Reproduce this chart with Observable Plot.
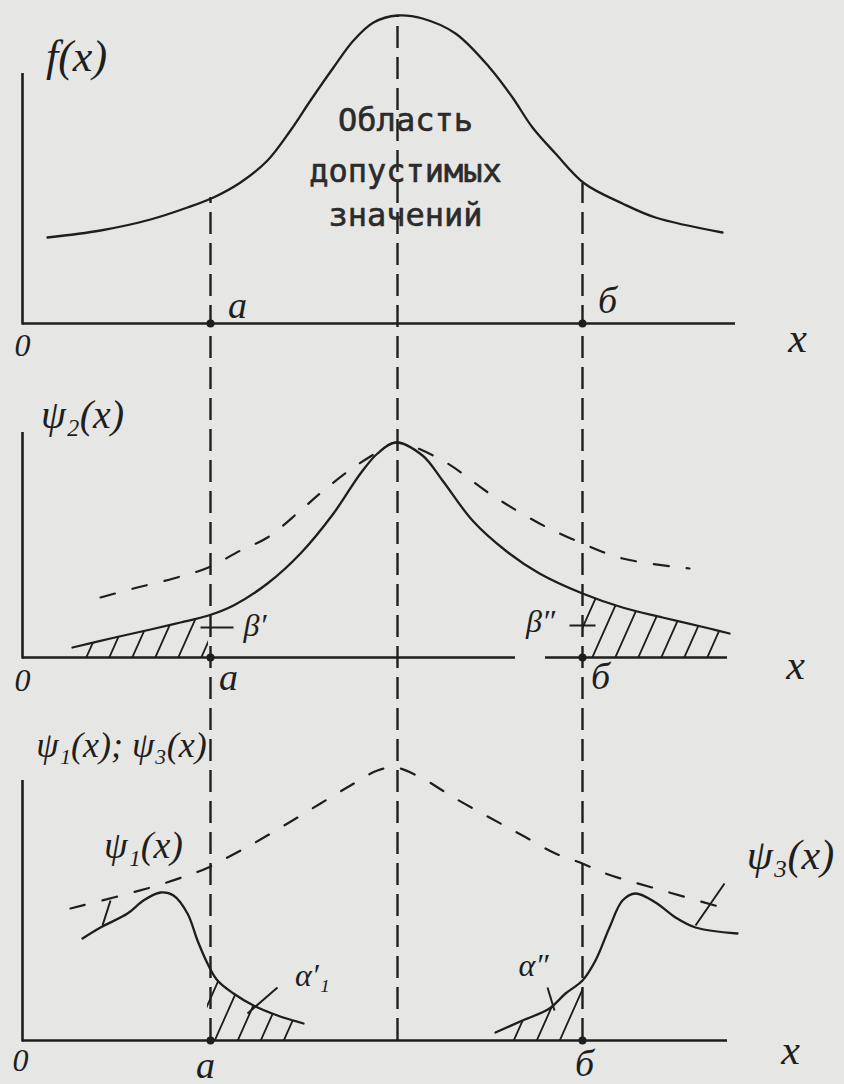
<!DOCTYPE html>
<html><head><meta charset="utf-8">
<script src="https://cdn.jsdelivr.net/npm/d3@7"></script>
<script src="https://cdn.jsdelivr.net/npm/@observablehq/plot@0.6"></script>
<style>
html,body{margin:0;padding:0;background:#e6e6e4;}
#chart{width:844px;height:1084px;overflow:hidden;}
</style></head><body><div id="chart"></div>
<script>
// ---- values (x in axis units, y = height above each panel's axis) ----
const xMarks = {a: 37.6, center: 75, b: 112};
const tickLabels = ["0", "a", "б"];

// top panel: f(x)
const fX = [5, 15.6, 25.6, 33, 38.2, 43.6, 49, 53.6, 57.6, 62.2, 66.2, 70.2, 75, 80, 86.6, 93.4, 98, 102, 106.6, 112.4, 120, 126.6, 140];
const fY = [17.2, 18.6, 20.8, 23.2, 25.2, 28.2, 32.6, 38.6, 44.6, 51.2, 56.6, 60.2, 61.6, 61, 58, 51.2, 45.2, 39.2, 34, 28, 24, 21.2, 18.2];

// middle panel: psi2(x) solid and its dashed envelope
const psi2X = [10, 17.6, 25.6, 31.6, 37.2, 42.2, 49, 55.6, 62.2, 67.6, 71, 74.6, 80, 84, 90, 96.6, 103.4, 112, 120, 128, 137.4, 141.4];
const psi2Y = [2, 3.8, 5.6, 7, 8.4, 10.4, 14.8, 20.8, 28.8, 36.8, 40.8, 43, 40.4, 35.4, 27.4, 21.4, 16.8, 12.8, 10, 8, 5.8, 4.8];
const env2X = [15.6, 22.2, 30.2, 37.2, 43.6, 49, 55.6, 60.2, 66.2, 71.6, 74.6, 84, 93.4, 103.4, 112, 120, 133.4];
const env2Y = [12, 13.8, 15.8, 18, 21.4, 24, 29.4, 33.4, 38, 41.4, 43, 39.4, 32.8, 26.8, 22.8, 19.8, 17.8];

// bottom panel: psi1(x), psi3(x) and the dashed envelope
const psi1X = [12, 15.6, 21, 24.2, 27.6, 30.2, 33, 35, 37, 39, 42.2, 46.2, 51, 56.2];
const psi1Y = [20.4, 22.6, 25.4, 28, 29.6, 29, 25.4, 20, 15.4, 12, 9.4, 7, 5, 3.4];
const psi3X = [94.6, 100, 105.4, 108.6, 112, 114.6, 117.4, 120, 122.6, 126.6, 130.6, 134.6, 143];
const psi3Y = [1.6, 4, 6.4, 9.4, 12, 16, 22.6, 28, 29.4, 27.6, 24.6, 22.6, 21.4];
const env13X = [9.6, 25.6, 33, 37.2, 41, 46.2, 53, 59.6, 65.6, 71, 74.6, 80, 86.6, 93.4, 100, 106.6, 112, 116.6, 126.6, 140.6];
const env13Y = [26.4, 30.6, 33, 34.6, 36.6, 39.4, 43.4, 47.4, 51, 54, 54.6, 52.4, 48.4, 44.6, 41, 37.4, 35.4, 33.4, 30.4, 26.4];

// caption inside the top panel
const regionText = ["Область", "допустимых", "значений"];

// ---- layout (positions / sizes / styles) ----
const ink = "#1e1e1e";
const base = {f: 152.2, psi2: 85.4, psi13: 8.8};
const yAxisTop = {f: 50, psi2: 45, psi13: 52};
const xAxisSegs = [
  {p: "f", x1: 0, x2: 142.6},
  {p: "psi2", x1: 0, x2: 98.6}, {p: "psi2", x1: 104.6, x2: 141},
  {p: "psi13", x1: 0, x2: 141}
];
const hatchRanges = [
  {p: "psi2", xs: psi2X, ys: psi2Y, from: 10, to: 37.6},
  {p: "psi2", xs: psi2X, ys: psi2Y, from: 112, to: 141.4},
  {p: "psi13", xs: psi1X, ys: psi1Y, from: 37, to: 56.2},
  {p: "psi13", xs: psi3X, ys: psi3Y, from: 94.6, to: 112}
];
const serif = {fontFamily: "Liberation Serif, DejaVu Serif, serif", fontStyle: "italic"};
const labels = [
  {p: "f", t: "f(x)", x: 10.8, y: 53.4, s: 44},
  {p: "f", t: tickLabels[0], x: 0, y: -4.4, s: 32},
  {p: "f", t: tickLabels[1], x: 43, y: 3.6, s: 38},
  {p: "f", t: tickLabels[2], x: 117, y: 4.6, s: 38},
  {p: "f", t: "x", x: 155, y: -3, s: 42},
  {p: "psi2", t: "ψ₂(x)", x: 12, y: 48.4, s: 40},
  {p: "psi2", t: tickLabels[0], x: 0, y: -4.6, s: 32},
  {p: "psi2", t: tickLabels[1], x: 41.2, y: -4, s: 38},
  {p: "psi2", t: tickLabels[2], x: 115.6, y: -3.8, s: 38},
  {p: "psi2", t: "x", x: 154.6, y: -1.6, s: 42},
  {p: "psi2", t: "β′", x: 46.5, y: 6.4, s: 32},
  {p: "psi2", t: "β″", x: 103.6, y: 7.2, s: 32},
  {p: "psi13", t: "ψ₁(x); ψ₃(x)", x: 19.8, y: 59, s: 36},
  {p: "psi13", t: "ψ₁(x)", x: 24.2, y: 39, s: 38},
  {p: "psi13", t: "ψ₃(x)", x: 153.6, y: 37, s: 42},
  {p: "psi13", t: "α′₁", x: 58, y: 13, s: 32},
  {p: "psi13", t: "α″", x: 102.2, y: 15, s: 32},
  {p: "psi13", t: tickLabels[0], x: -0.4, y: -4, s: 32},
  {p: "psi13", t: tickLabels[1], x: 36.6, y: -5, s: 38},
  {p: "psi13", t: tickLabels[2], x: 112.4, y: -4.6, s: 38},
  {p: "psi13", t: "x", x: 153.6, y: -2, s: 42}
];
const leaders = [
  {p: "psi13", x1: 17.6, y1: 28, x2: 16, y2: 23},
  {p: "psi13", x1: 140.4, y1: 31.4, x2: 134.6, y2: 23},
  {p: "psi13", x1: 51, y1: 10.6, x2: 45, y2: 5.4},
  {p: "psi13", x1: 105, y1: 10.6, x2: 106.4, y2: 6},
  {p: "psi2", x1: 35.6, y1: 6, x2: 42.2, y2: 6},
  {p: "psi2", x1: 109.4, y1: 6.4, x2: 114.6, y2: 6.4}
];
const regionPos = {x: 76.6, y: [40.6, 30.4, 21.6]};

const pts = (xs, ys, p) => xs.map((x, i) => ({x, y: base[p] + ys[i], y0: base[p]}));
const fTop = (xv) => { const i = fX.findIndex(v => v >= xv); return base.f + fY[i]; };

const curves = [pts(fX, fY, "f"), pts(psi2X, psi2Y, "psi2"), pts(psi1X, psi1Y, "psi13"), pts(psi3X, psi3Y, "psi13")];
const dashedCurves = [pts(env2X, env2Y, "psi2"), pts(env13X, env13Y, "psi13")];
const vlines = [
  {x: xMarks.a, top: fTop(xMarks.a)},
  {x: xMarks.center, top: base.f + Math.max(...fY)},
  {x: xMarks.b, top: fTop(xMarks.b)}
];
const dots = Object.keys(base).flatMap(p => [{x: xMarks.a, y: base[p]}, {x: xMarks.b, y: base[p]}]);

const marks = [];
// hatched regions
for (const h of hatchRanges) {
  const d = pts(h.xs, h.ys, h.p).filter(d => d.x >= h.from - 0.01 && d.x <= h.to + 0.01);
  marks.push(Plot.areaY(d, {x: "x", y1: "y0", y2: "y", fill: "url(#hatch)", curve: "catmull-rom"}));
}
// axes
marks.push(Plot.ruleX(Object.keys(base), {x: () => 0, y1: p => base[p] - 0.3, y2: p => base[p] + yAxisTop[p], stroke: ink, strokeWidth: 2.6}));
marks.push(Plot.ruleY(xAxisSegs, {y: d => base[d.p], x1: "x1", x2: "x2", stroke: ink, strokeWidth: 2.4}));
// vertical dashed guides
marks.push(Plot.ruleX(vlines, {x: "x", y1: () => base.psi13, y2: "top", stroke: ink, strokeWidth: 2.4, strokeDasharray: "22,9"}));
// curves
for (const c of curves) marks.push(Plot.line(c, {x: "x", y: "y", curve: "catmull-rom", stroke: ink, strokeWidth: 2.3}));
for (const c of dashedCurves) marks.push(Plot.line(c, {x: "x", y: "y", curve: "catmull-rom", stroke: ink, strokeWidth: 2.2, strokeDasharray: "15,18"}));
marks.push(Plot.link(leaders, {x1: "x1", x2: "x2", y1: d => base[d.p] + d.y1, y2: d => base[d.p] + d.y2, stroke: ink, strokeWidth: 2}));
marks.push(Plot.dot(dots, {x: "x", y: "y", r: 4, fill: ink}));
// labels
marks.push(Plot.text(labels, {x: "x", y: d => base[d.p] + d.y, text: "t", fontSize: d => d.s, textAnchor: "middle", lineAnchor: "middle", fill: ink, ...serif}));
marks.push(Plot.text(regionText, {
  x: () => regionPos.x, y: (d, i) => base.f + regionPos.y[i], text: d => d,
  fontFamily: "DejaVu Sans Mono, Liberation Mono, monospace", fontSize: 32,
  textAnchor: "middle", lineAnchor: "middle", fill: "#2b2b2b", stroke: "#2b2b2b", strokeWidth: 0.6
}));

const svg = Plot.plot({
  width: 844, height: 1084, margin: 0,
  x: {domain: [-4.4, 164.4]},
  y: {domain: [0, 216.8]},
  style: {background: "transparent"},
  marks
});
const defs = d3.select(svg).insert("defs", ":first-child");
const pat = defs.append("pattern").attr("id", "hatch").attr("patternUnits", "userSpaceOnUse")
  .attr("width", 23).attr("height", 23).attr("patternTransform", "skewX(-24)");
pat.append("line").attr("x1", 11).attr("y1", -2).attr("x2", 11).attr("y2", 25).attr("stroke", ink).attr("stroke-width", 2);
document.getElementById("chart").appendChild(svg);
</script></body></html>
